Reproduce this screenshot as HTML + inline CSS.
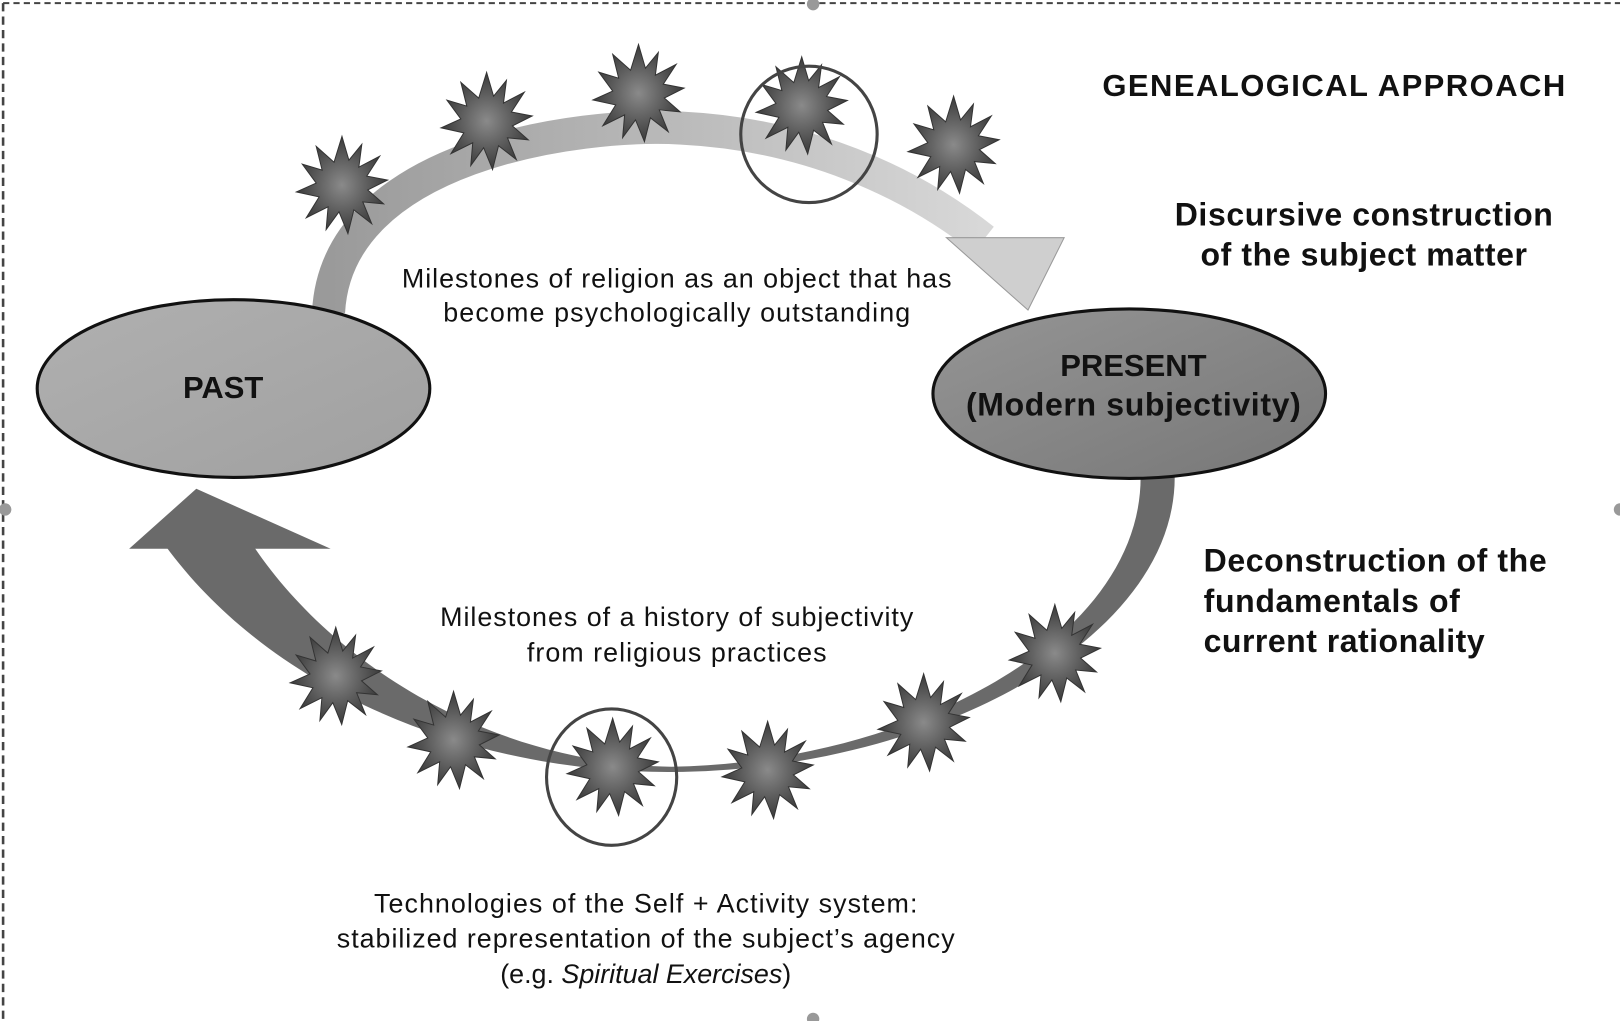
<!DOCTYPE html>
<html><head><meta charset="utf-8"><style>
html,body{margin:0;padding:0;background:#fff;}
svg{display:block;}
text{font-family:"Liberation Sans",sans-serif;fill:#111;}
</style></head><body>
<svg width="1620" height="1021" viewBox="0 0 1568 988" preserveAspectRatio="none" xmlns="http://www.w3.org/2000/svg">
<defs>
<radialGradient id="sg" cx="50%" cy="50%" r="50%">
<stop offset="0" stop-color="#8a8a8a"/><stop offset="0.6" stop-color="#5a5a5a"/><stop offset="1" stop-color="#3a3a3a"/>
</radialGradient>
<linearGradient id="tg" x1="0" y1="0" x2="1" y2="0">
<stop offset="0" stop-color="#9a9a9a"/><stop offset="0.5" stop-color="#b8b8b8"/><stop offset="1" stop-color="#d8d8d8"/>
</linearGradient>
<linearGradient id="pg" x1="0" y1="0" x2="1" y2="1">
<stop offset="0" stop-color="#b0b0b0"/><stop offset="1" stop-color="#a0a0a0"/>
</linearGradient>
<linearGradient id="prg" x1="0" y1="0" x2="1" y2="1">
<stop offset="0" stop-color="#959595"/><stop offset="1" stop-color="#777"/>
</linearGradient>
<symbol id="star" viewBox="-50 -50 100 100" overflow="visible">
<polygon fill="url(#sg)" stroke="#333" stroke-width="1" points="0,-50 7,-26 20,-42 17,-19 38,-30 25,-10 46,-6 26,4 42,18 21,16 30,38 12,24 6,48 -3,26 -16,44 -14,21 -36,32 -23,11 -46,6 -26,-3 -40,-22 -20,-16 -26,-40 -8,-24"/>
</symbol>
</defs>

<line x1="3" y1="3" x2="1568" y2="3" stroke="#444" stroke-width="2" stroke-dasharray="6,4"/>
<line x1="3" y1="3" x2="3" y2="988" stroke="#444" stroke-width="2.5" stroke-dasharray="8,5"/>
<circle cx="787" cy="4" r="6" fill="#999"/>
<circle cx="5" cy="493" r="6" fill="#999"/>
<circle cx="1568" cy="493" r="6" fill="#999"/>
<circle cx="787" cy="986" r="6" fill="#999"/>

<path d="M318,302 C326,150 560,118 660,124 C780,130 880,175 952,232" fill="none" stroke="url(#tg)" stroke-width="32"/>
<polygon points="916,230 1030,230 995,300" fill="#cfcfcf" stroke="#999" stroke-width="1"/>

<path d="M1137,462 C1137,620 900,746 650,747 C450,748 260,665 160,528 L245,528 C320,640 470,738 650,742 C880,738 1104,620 1104,462 Z" fill="#6a6a6a"/>
<polygon points="125,531 320,531 190,473" fill="#6a6a6a"/>

<ellipse cx="226" cy="376" rx="190" ry="86" fill="url(#pg)" stroke="#111" stroke-width="3"/>
<ellipse cx="1093" cy="381" rx="190" ry="82" fill="url(#prg)" stroke="#111" stroke-width="3"/>

<use href="#star" x="283" y="132" width="96" height="96"/>
<use href="#star" x="423" y="70" width="96" height="96"/>
<use href="#star" x="570" y="43" width="96" height="96"/>
<use href="#star" x="728" y="55" width="96" height="96"/>
<use href="#star" x="875" y="93" width="96" height="96"/>
<ellipse cx="783" cy="130" rx="66" ry="66" fill="none" stroke="#444" stroke-width="3"/>

<use href="#star" x="277" y="607" width="96" height="96"/>
<use href="#star" x="391" y="669" width="96" height="96"/>
<use href="#star" x="545" y="695" width="96" height="96"/>
<use href="#star" x="695" y="698" width="96" height="96"/>
<use href="#star" x="846" y="652" width="96" height="96"/>
<use href="#star" x="973" y="585" width="96" height="96"/>
<ellipse cx="592" cy="752" rx="63" ry="66" fill="none" stroke="#444" stroke-width="3"/>

<text x="1291" y="93" font-size="30" font-weight="bold" text-anchor="middle" textLength="448">GENEALOGICAL APPROACH</text>
<text x="1320" y="218" font-size="31" font-weight="bold" text-anchor="middle" textLength="366">Discursive construction</text>
<text x="1320" y="257" font-size="31" font-weight="bold" text-anchor="middle" textLength="316">of the subject matter</text>
<text x="216" y="385" font-size="30" font-weight="bold" text-anchor="middle">PAST</text>
<text x="1097" y="364" font-size="30" font-weight="bold" text-anchor="middle">PRESENT</text>
<text x="1097" y="402" font-size="31" font-weight="bold" text-anchor="middle" textLength="324">(Modern subjectivity)</text>
<text x="1165" y="553" font-size="31" font-weight="bold" textLength="332">Deconstruction of the</text>
<text x="1165" y="592" font-size="31" font-weight="bold" textLength="248">fundamentals of</text>
<text x="1165" y="631" font-size="31" font-weight="bold" textLength="272">current rationality</text>
<text x="655" y="278" font-size="26" text-anchor="middle" textLength="532">Milestones of religion as an object that has</text>
<text x="655" y="311" font-size="26" text-anchor="middle" textLength="452">become psychologically outstanding</text>
<text x="655" y="606" font-size="26" text-anchor="middle" textLength="458">Milestones of a history of subjectivity</text>
<text x="655" y="640" font-size="26" text-anchor="middle" textLength="290">from religious practices</text>
<text x="625" y="883" font-size="26" text-anchor="middle" textLength="526">Technologies of the Self + Activity system:</text>
<text x="625" y="917" font-size="26" text-anchor="middle" textLength="598">stabilized representation of the subject’s agency</text>
<text x="625" y="951" font-size="26" text-anchor="middle">(e.g. <tspan font-style="italic">Spiritual Exercises</tspan>)</text>
</svg>
</body></html>
